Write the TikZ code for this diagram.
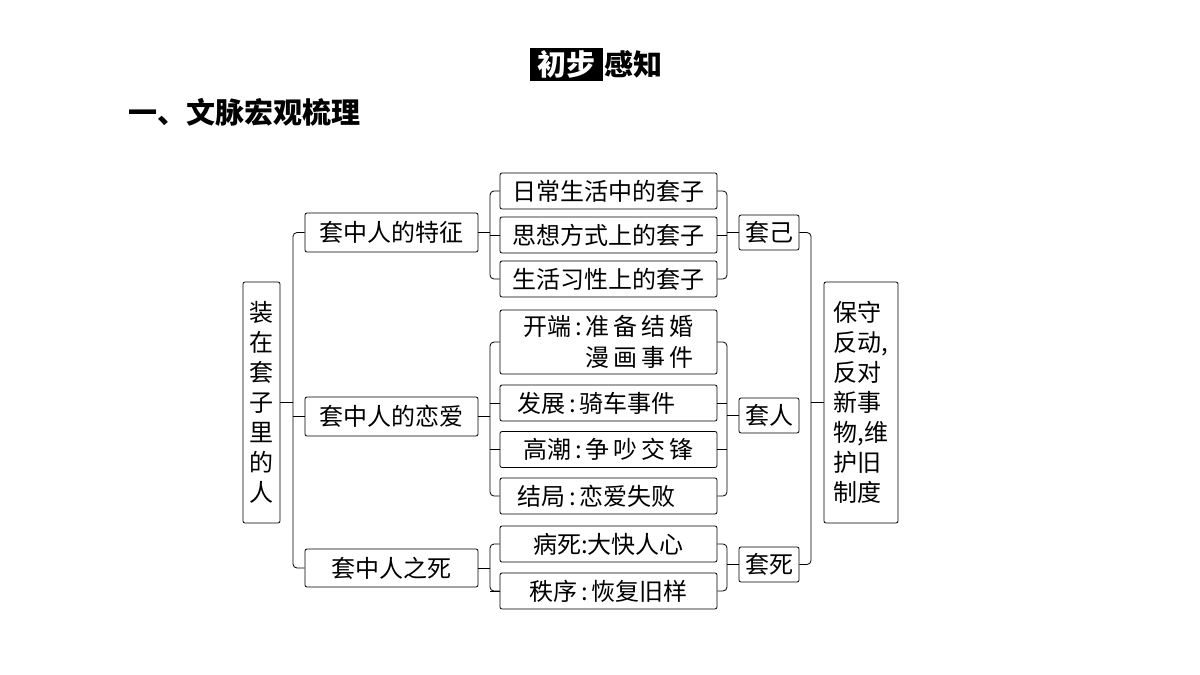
\documentclass[tikz,border=0pt]{standalone}
\usepackage{fontspec}
\setmainfont{Noto Sans CJK SC}
\begin{document}
\begin{tikzpicture}[x=1pt,y=-1pt,
  bx/.style={draw,thick,rounded corners=2pt,inner sep=0pt,font=\fontsize{24}{28}\selectfont},
  ln/.style={thick,rounded corners=4pt}]
\useasboundingbox (0,0) rectangle (1200,675);
\node[fill=black,text=white,inner sep=1pt,font=\fontsize{29}{32}\selectfont\bfseries,minimum height=33pt,minimum width=73pt] (t1) at (566.5,64) {初步};
\node[anchor=west,inner sep=1pt,font=\fontsize{29}{32}\selectfont\bfseries] (t2) at (t1.east) {感知};
\node[anchor=west,inner sep=0pt,font=\fontsize{29}{32}\selectfont\bfseries] (h) at (128,112) {一、文脉宏观梳理};
% root
\node[bx,minimum width=37pt,minimum height=241pt,align=center,font=\fontsize{24}{30}\selectfont] (r) at (261.5,402.5) {装\\在\\套\\子\\里\\的\\人};
% level1
\node[bx,minimum width=173pt,minimum height=39pt] (a) at (391.5,232.5) {套中人的特征};
\node[bx,minimum width=173pt,minimum height=39pt] (b) at (391.5,416.5) {套中人的恋爱};
\node[bx,minimum width=173pt,minimum height=38pt] (c) at (391.5,568) {套中人之死};
% level2
\tikzset{l2/.style={bx,minimum width=217pt,minimum height=36pt}}
\node[l2] (a1) at (608.5,191) {日常生活中的套子};
\node[l2] (a2) at (608.5,235) {思想方式上的套子};
\node[l2] (a3) at (608.5,279) {生活习性上的套子};
\node[l2,minimum height=64pt,align=left,font=\fontsize{24}{31}\selectfont] (b1) at (608.5,342) {开端\,:\,准\,备\,结\,婚\\\phantom{开端\,:\,}漫\,画\,事\,件};
\node[l2] (b2) at (608.5,403) {发展\,:\,骑车事件\phantom{件}};
\node[l2] (b3) at (608.5,449.5) {高潮\,:\,争\,吵\,交\,锋};
\node[l2] (b4) at (608.5,496) {结局\,:\,恋爱失败\phantom{件}};
\node[l2] (c1) at (608.5,544) {病死:大快人心};
\node[l2] (c2) at (608.5,591) {秩序\,:\,恢复旧样};
% level3
\node[bx,minimum width=60pt,minimum height=35pt] (x) at (769,232.5) {套己};
\node[bx,minimum width=60pt,minimum height=35pt] (y) at (769,415.5) {套人};
\node[bx,minimum width=60pt,minimum height=35pt] (z) at (769,564.5) {套死};
\node[bx,minimum width=74pt,minimum height=241pt,align=left,font=\fontsize{24}{30}\selectfont] (f) at (861,402.5) {保守\\反动,\\反对\\新事\\物,维\\护旧\\制度};
% left connectors
\draw[thick] (r.east) -- (293,402.5);
\draw[ln] (a.west) -- (293,232.5) -- (293,568) -- (c.west);
\draw[thick] (293,416.5) -- (b.west);
\foreach \p/\q/\s in {a/a1/a3,b/b1/b4,c/c1/c2}{
  \draw[thick] (\p.east) -- (490,0 |- \p.east);
  \draw[ln] (\q.west) -- (490,0 |- \q.west) -- (490,0 |- \s.west) -- (\s.west);
}
\foreach \n in {a2,b2,b3,c2}{\draw[thick] (\n.west) -- (490,0 |- \n.west);}
% right connectors
\foreach \q/\s/\t in {a1/a3/x,b1/b4/y,c1/c2/z}{
  \draw[ln] (\q.east) -- (727,0 |- \q.east) -- (727,0 |- \s.east) -- (\s.east);
  \draw[thick] (727,0 |- \t.west) -- (\t.west);
}
\foreach \n in {a2,b2,b3}{\draw[thick] (\n.east) -- (727,0 |- \n.east);}
\draw[ln] (x.east) -- (811,0 |- x.east) -- (811,0 |- z.east) -- (z.east);
\draw[thick] (811,0 |- f.west) -- (f.west);
\end{tikzpicture}
\end{document}
